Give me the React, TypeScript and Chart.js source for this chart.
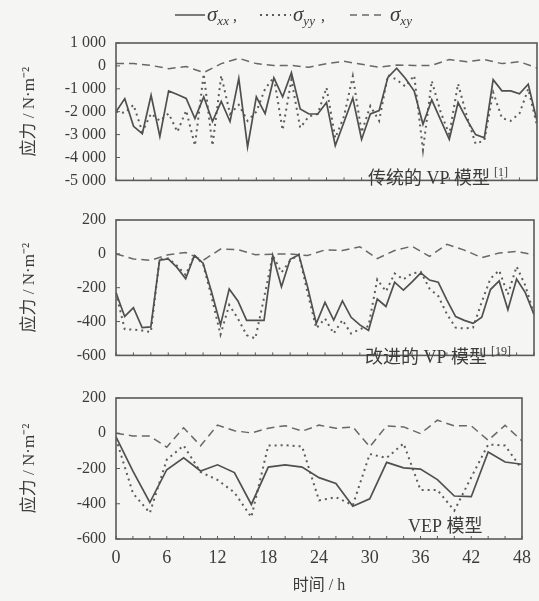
import React, { useEffect, useRef } from "react";
import { Chart, registerables } from "chart.js";

Chart.register(...registerables);

// ---------------- DATA ----------------
const HOURS_1H = [0, 1, 2, 3, 4, 5, 6, 7, 8, 9, 10, 11, 12, 13, 14, 15, 16, 17, 18, 19, 20, 21, 22, 23, 24,
  25, 26, 27, 28, 29, 30, 31, 32, 33, 34, 35, 36, 37, 38, 39, 40, 41, 42, 43, 44, 45, 46, 47, 48];
const HOURS_2H = [0, 2, 4, 6, 8, 10, 12, 14, 16, 18, 20, 22, 24, 26, 28, 30, 32, 34, 36, 38, 40, 42, 44, 46, 48];
const X_TICKS = [0, 6, 12, 18, 24, 30, 36, 42, 48];

// Panel 1: traditional VP model (hourly for xx, yy; 2-hourly for xy)
const VP_SXX = [-2000, -1430, -2640, -2960, -1280, -3080, -1090, -1250, -1420, -2300, -1350, -2430, -1550, -2430,
  -550, -3540, -1350, -2080, -520, -1350, -300, -1880, -2100, -2100, -1600, -3480, -2450, -1400, -3210, -2100,
  -1950, -500, -100, -550, -1100, -2550, -1480, -2350, -3210, -1600, -2350, -3000, -3140, -600, -1090, -1090,
  -1220, -800, -2400];
const VP_SYY = [-2000, -2050, -1700, -2880, -2080, -2400, -2080, -2880, -1950, -3480, -350, -3480, -420, -2100,
  -1700, -2400, -2000, -1000, -500, -2800, -600, -2700, -2200, -2100, -950, -3150, -2200, -450, -2900, -1750,
  -2400, -400, -600, -900, -420, -3670, -650, -2000, -3000, -780, -2200, -3400, -3250, -1150, -2280, -2400,
  -2080, -1000, -2600];
const VP_SXY = [100, 100, 20, -120, -30, -290, 100, 330, 100, 20, 20, -60, 100, 200, 70, -60, 40, 20, 20, 280,
  180, 280, 100, 180, -90];

// Panel 2: improved VP model
const IVP_SXX = [-230, -370, -318, -436, -432, -38, -30, -80, -147, -10, -55, -230, -420, -207, -278, -393, -393,
  -393, -10, -194, -32, -6, -195, -412, -287, -391, -278, -375, -420, -452, -267, -311, -167, -214, -165, -112,
  -155, -167, -273, -371, -393, -411, -374, -211, -160, -330, -149, -229, -358];
const IVP_SYY = [-230, -445, -448, -453, -462, -32, -27, -70, -125, -9, -60, -260, -477, -302, -382, -480, -500,
  -260, -9, -110, -40, -4, -230, -440, -382, -471, -391, -471, -445, -427, -151, -222, -116, -151, -116, -107,
  -205, -249, -356, -436, -441, -436, -285, -146, -98, -240, -75, -187, -356];
const IVP_SXY = [0, -30, -38, -5, 8, -38, 28, 25, -5, -2, 0, -10, 23, 20, 42, -28, 20, 45, -15, 56, 22, -22, 5,
  14, -5];

// Panel 3: VEP model (2-hourly)
const VEP_SXX = [-20, -215, -393, -207, -140, -214, -179, -223, -404, -192, -180, -192, -252, -285, -414, -372,
  -165, -196, -203, -263, -356, -360, -106, -163, -176];
const VEP_SYY = [-30, -340, -452, -150, -70, -220, -265, -336, -476, -70, -68, -75, -381, -363, -408, -118, -140,
  -58, -322, -322, -439, -250, -64, -70, -204];
const VEP_SXY = [0, -15, -16, -79, 31, -71, 46, 14, 2, 28, 43, 12, 46, 28, 36, -77, 42, 36, -2, 74, 42, 42, -40,
  45, -43];

const Y_TITLE = "应力 / N·m⁻²";
const X_TITLE = "时间 / h";
const PANEL_LABELS = ["传统的 VP 模型", "改进的 VP 模型", "VEP 模型"];
const PANEL_REFS = ["[1]", "[19]", ""];

// ---------------- STYLE ----------------
const BG = "#f5f5f3";
const TEXT = "#3c3c3c";
const FRAME = "#5a5a5a";
const C_XX = "#505050";
const C_YY = "#5c5c5c";
const C_XY = "#686868";
const SERIF = "'Liberation Serif', 'Noto Sans CJK SC', serif";

function pts(hours: number[], vals: number[]) {
  return hours.map((h, i) => ({ x: h, y: vals[i] }));
}

function fmtThousands(v: number) {
  const a = Math.abs(v);
  let s = String(a);
  if (a >= 1000) s = s.slice(0, s.length - 3) + " " + s.slice(s.length - 3);
  return (v < 0 ? "-" : "") + s;
}

type PanelCfg = {
  top: number;
  height: number;
  pad: { top: number; right: number; bottom: number; left: number };
  yMin: number;
  yMax: number;
  yStep: number;
  xx: { x: number; y: number }[];
  yy: { x: number; y: number }[];
  xy: { x: number; y: number }[];
  showX: boolean;
  xAxisH: number;
  label: string;
  ref: string;
  labelX: number;
  labelBase: number;
  legend: boolean;
  thousands: boolean;
};

function drawSigma(ctx: CanvasRenderingContext2D, x: number, base: number, sub: string) {
  ctx.font = "italic 21px 'Liberation Serif', serif";
  ctx.fillText("σ", x, base);
  const w = ctx.measureText("σ").width;
  ctx.font = "italic 13px 'Liberation Serif', serif";
  ctx.fillText(sub, x + w, base + 4);
  return x + w + ctx.measureText(sub).width;
}

function makeChart(canvas: HTMLCanvasElement, cfg: PanelCfg) {
  const framePlugin = {
    id: "frameAndText",
    afterDraw(chart: any) {
      const ctx: CanvasRenderingContext2D = chart.ctx;
      const a = chart.chartArea;
      const xs = chart.scales.x;
      const ys = chart.scales.y;
      ctx.save();
      // frame
      ctx.strokeStyle = FRAME;
      ctx.lineWidth = 1.6;
      ctx.setLineDash([]);
      ctx.strokeRect(a.left, a.top, a.right - a.left, a.bottom - a.top);
      // inward ticks
      ctx.lineWidth = 1;
      ctx.beginPath();
      for (let v = cfg.yMin; v <= cfg.yMax; v += cfg.yStep) {
        const py = ys.getPixelForValue(v);
        ctx.moveTo(a.left, py);
        ctx.lineTo(a.left + 4, py);
      }
      for (const h of HOURS_2H) {
        const px = xs.getPixelForValue(h);
        ctx.moveTo(px, a.bottom);
        ctx.lineTo(px, a.bottom - 3);
      }
      ctx.stroke();
      // panel label
      ctx.fillStyle = TEXT;
      ctx.textBaseline = "alphabetic";
      ctx.textAlign = "left";
      ctx.font = "18px " + SERIF;
      ctx.fillText(cfg.label, cfg.labelX, cfg.labelBase);
      if (cfg.ref) {
        const w = ctx.measureText(cfg.label).width;
        ctx.font = "12px 'Liberation Serif', serif";
        ctx.fillText(cfg.ref, cfg.labelX + w + 4, cfg.labelBase - 8);
      }
      // legend
      if (cfg.legend) {
        const base = 21;
        const ly = 15;
        ctx.strokeStyle = C_XX;
        ctx.lineWidth = 1.5;
        ctx.beginPath();
        ctx.moveTo(175, ly);
        ctx.lineTo(205, ly);
        ctx.stroke();
        let e = drawSigma(ctx, 207, base, "xx");
        ctx.font = "16px 'Liberation Serif', serif";
        ctx.fillText(",", e + 4, base);
        ctx.strokeStyle = C_YY;
        ctx.lineWidth = 2;
        ctx.setLineDash([2, 4]);
        ctx.beginPath();
        ctx.moveTo(260, ly);
        ctx.lineTo(291, ly);
        ctx.stroke();
        ctx.setLineDash([]);
        e = drawSigma(ctx, 293, base, "yy");
        ctx.font = "16px 'Liberation Serif', serif";
        ctx.fillText(",", e + 6, base);
        ctx.strokeStyle = C_XY;
        ctx.lineWidth = 1.5;
        ctx.setLineDash([7, 5]);
        ctx.beginPath();
        ctx.moveTo(350, ly);
        ctx.lineTo(386, ly);
        ctx.stroke();
        ctx.setLineDash([]);
        drawSigma(ctx, 390, base, "xy");
      }
      ctx.restore();
    },
  };

  const bgPlugin = {
    id: "bg",
    beforeDraw(chart: any) {
      const ctx = chart.ctx;
      ctx.save();
      ctx.fillStyle = BG;
      ctx.fillRect(0, 0, chart.width, chart.height);
      ctx.restore();
    },
  };

  return new Chart(canvas, {
    type: "line",
    data: {
      datasets: [
        {
          label: "σxx",
          data: cfg.xx,
          borderColor: C_XX,
          borderWidth: 1.7,
          pointRadius: 0,
          tension: 0,
          fill: false,
        },
        {
          label: "σyy",
          data: cfg.yy,
          borderColor: C_YY,
          borderWidth: 2,
          borderDash: [2, 4],
          pointRadius: 0,
          tension: 0,
          fill: false,
        },
        {
          label: "σxy",
          data: cfg.xy,
          borderColor: C_XY,
          borderWidth: 1.5,
          borderDash: [8, 5],
          pointRadius: 0,
          tension: 0,
          fill: false,
        },
      ],
    },
    options: {
      responsive: false,
      animation: false,
      devicePixelRatio: 1,
      layout: { padding: cfg.pad },
      plugins: {
        legend: { display: false },
        tooltip: { enabled: false },
        title: { display: false },
      },
      scales: {
        x: {
          type: "linear",
          min: 0,
          max: 48,
          afterBuildTicks: (scale: any) => {
            scale.ticks = X_TICKS.map((v) => ({ value: v }));
          },
          grid: { display: false, drawTicks: false },
          border: { display: false },
          ticks: {
            display: cfg.showX,
            color: TEXT,
            font: { family: SERIF, size: 18 },
            padding: 8,
            maxRotation: 0,
            autoSkip: false,
          },
          title: {
            display: cfg.showX,
            text: X_TITLE,
            color: TEXT,
            font: { family: SERIF, size: 16 },
            padding: { top: 0, bottom: 6 },
          },
          afterFit: (scale: any) => {
            scale.height = cfg.xAxisH;
          },
        },
        y: {
          type: "linear",
          min: cfg.yMin,
          max: cfg.yMax,
          grid: { display: false, drawTicks: false },
          border: { display: false },
          ticks: {
            stepSize: cfg.yStep,
            color: TEXT,
            font: { family: SERIF, size: 16 },
            padding: 10,
            callback: (v: any) => (cfg.thousands ? fmtThousands(Number(v)) : String(v)),
          },
          title: {
            display: true,
            text: Y_TITLE,
            color: TEXT,
            font: { family: SERIF, size: 17 },
            padding: { top: 19, bottom: 0 },
          },
          afterFit: (scale: any) => {
            scale.width = 116;
          },
        },
      },
    },
    plugins: [bgPlugin, framePlugin],
  } as any);
}

const PANELS: PanelCfg[] = [
  {
    top: 0,
    height: 200,
    pad: { top: 43, right: 2, bottom: 7, left: 0 },
    yMin: -5000,
    yMax: 1000,
    yStep: 1000,
    xx: pts(HOURS_1H, VP_SXX),
    yy: pts(HOURS_1H, VP_SYY),
    xy: pts(HOURS_2H, VP_SXY),
    showX: false,
    xAxisH: 0,
    label: PANEL_LABELS[0],
    ref: PANEL_REFS[0],
    labelX: 368,
    labelBase: 184,
    legend: true,
    thousands: true,
  },
  {
    top: 200,
    height: 175,
    pad: { top: 20, right: 5, bottom: 5, left: 0 },
    yMin: -600,
    yMax: 200,
    yStep: 200,
    xx: pts(HOURS_1H, IVP_SXX),
    yy: pts(HOURS_1H, IVP_SYY),
    xy: pts(HOURS_2H, IVP_SXY),
    showX: false,
    xAxisH: 0,
    label: PANEL_LABELS[1],
    ref: PANEL_REFS[1],
    labelX: 365,
    labelBase: 163,
    legend: false,
    thousands: false,
  },
  {
    top: 375,
    height: 226,
    pad: { top: 23, right: 10, bottom: 0, left: 0 },
    yMin: -600,
    yMax: 200,
    yStep: 200,
    xx: pts(HOURS_2H, VEP_SXX),
    yy: pts(HOURS_2H, VEP_SYY),
    xy: pts(HOURS_2H, VEP_SXY),
    showX: true,
    xAxisH: 62,
    label: PANEL_LABELS[2],
    ref: PANEL_REFS[2],
    labelX: 408,
    labelBase: 157,
    legend: false,
    thousands: false,
  },
];

function Panel({ cfg }: { cfg: PanelCfg }) {
  const ref = useRef<HTMLCanvasElement | null>(null);
  useEffect(() => {
    if (!ref.current) return;
    const chart = makeChart(ref.current, cfg);
    return () => chart.destroy();
  }, [cfg]);
  return (
    <canvas
      ref={ref}
      width={539}
      height={cfg.height}
      style={{ position: "absolute", left: 0, top: cfg.top, width: 539, height: cfg.height, display: "block" }}
    />
  );
}

export default function App() {
  return (
    <div
      style={{
        position: "absolute",
        left: 0,
        top: 0,
        width: 539,
        height: 601,
        background: BG,
        overflow: "hidden",
      }}
    >
      {PANELS.map((p, i) => (
        <Panel key={i} cfg={p} />
      ))}
    </div>
  );
}
